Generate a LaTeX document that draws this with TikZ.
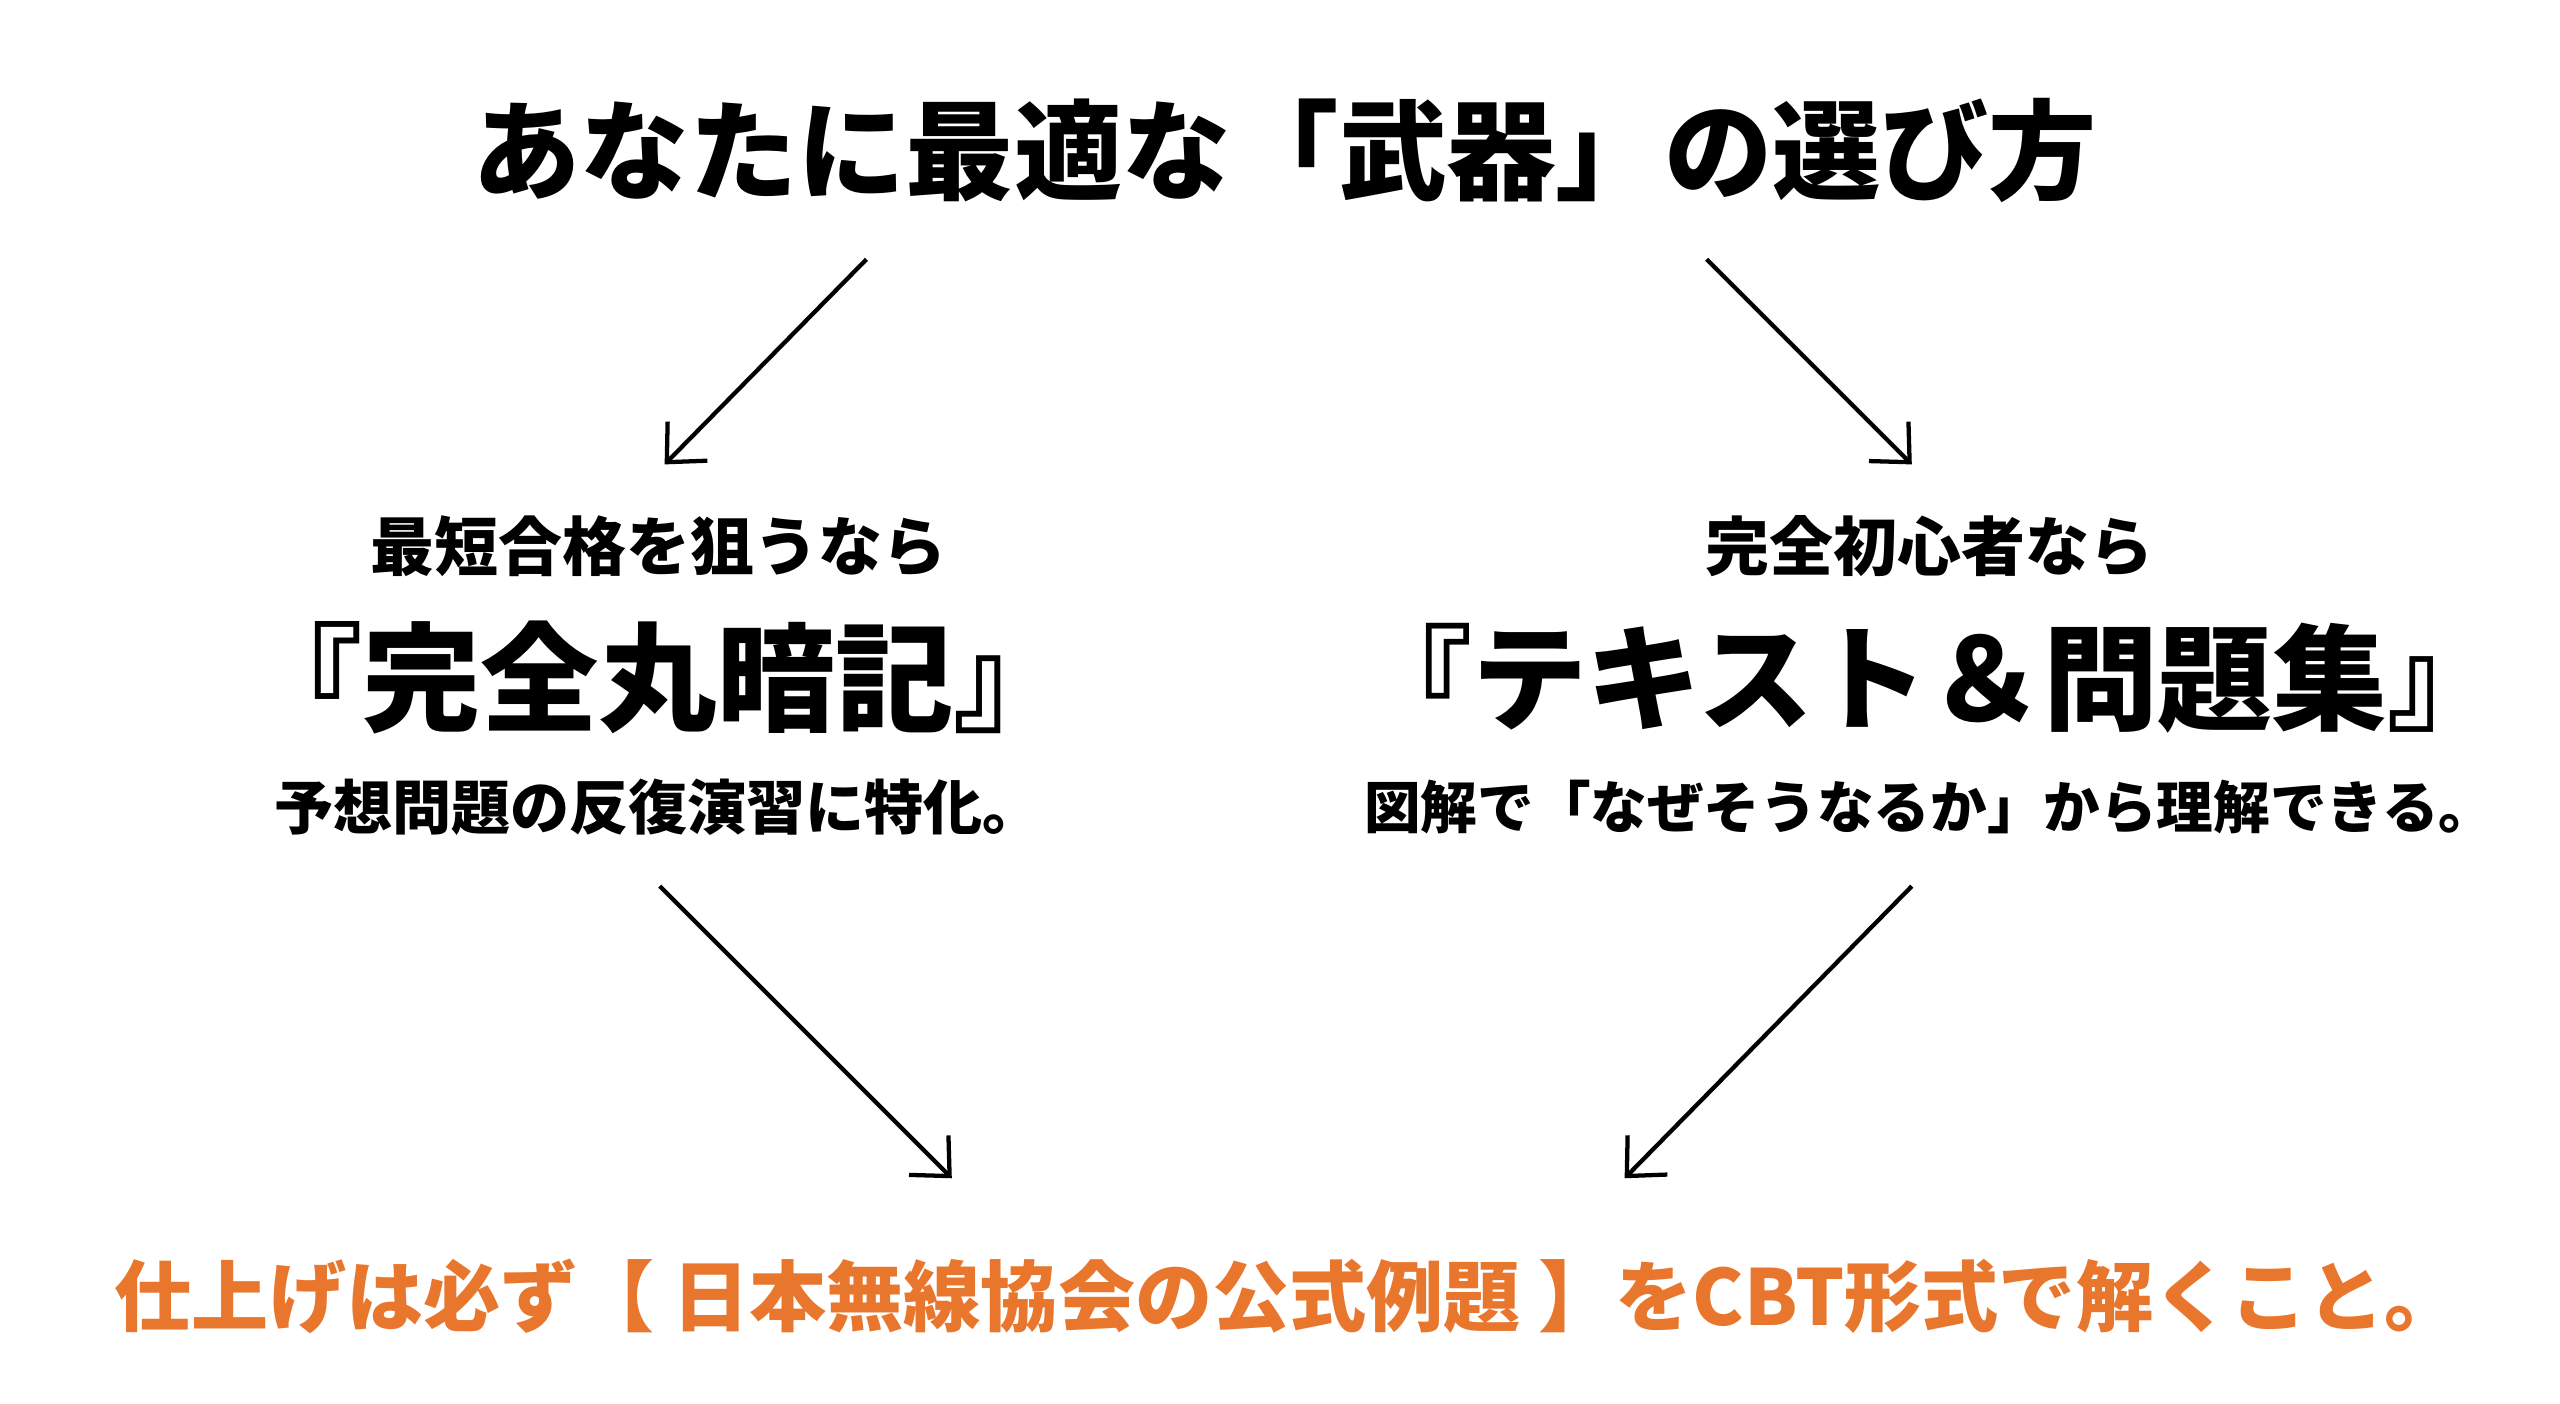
\documentclass[tikz,border=0pt]{standalone}
\usepackage{fontspec}
\newfontfamily\cjk{Noto Sans CJK JP}
\usetikzlibrary{arrows.meta}
\definecolor{accent}{HTML}{E8762C}
\tikzset{
  txt/.style={font=\cjk\bfseries, inner sep=0pt, anchor=center},
  arr/.style={line width=2.6pt, -{Straight Barb[length=18pt,width=34pt,line width=2.6pt]}}
}
\begin{document}
\begin{tikzpicture}[x=1pt,y=-1pt]
\useasboundingbox[fill=white] (0,0) rectangle (1560,855.5);
\node[txt, font=\cjk\bfseries\fontsize{66}{72}\selectfont] (title) at (783,92) {あなたに最適な「武器」の選び方};
\coordinate (a1s) at (528,158); \coordinate (a1e) at (405,283);
\coordinate (a2s) at (1040,158); \coordinate (a2e) at (1165,283);
\draw[arr] (a1s) -- (a1e);
\draw[arr] (a2s) -- (a2e);
\node[txt, font=\cjk\bfseries\fontsize{39}{44}\selectfont] (l1) at (401,333) {最短合格を狙うなら};
\node[txt, font=\cjk\bfseries\fontsize{72}{78}\selectfont] (l2) at (401,413) {『完全丸暗記』};
\node[txt, font=\cjk\bfseries\fontsize{36}{40}\selectfont] (l3) at (401,492) {予想問題の反復演習に特化。};
\node[txt, font=\cjk\bfseries\fontsize{39}{44}\selectfont] (r1) at (1176,333) {完全初心者なら};
\node[txt, font=\cjk\bfseries\fontsize{70}{78}\selectfont] (r2) at (1176,413) {『テキスト＆問題集』};
\node[txt, font=\cjk\bfseries\fontsize{34.5}{40}\selectfont] (r3) at (1176,492) {図解で「なぜそうなるか」から理解できる。};
\coordinate (b1s) at (402,540); \coordinate (b1e) at (580,718);
\coordinate (b2s) at (1165,540); \coordinate (b2e) at (990,718);
\draw[arr] (b1s) -- (b1e);
\draw[arr] (b2s) -- (b2e);
\node[txt, text=accent, font=\cjk\bfseries\fontsize{47}{54}\selectfont] (bot) at (785,790) {仕上げは必ず【 日本無線協会の公式例題 】をCBT形式で解くこと。};
\end{tikzpicture}
\end{document}
